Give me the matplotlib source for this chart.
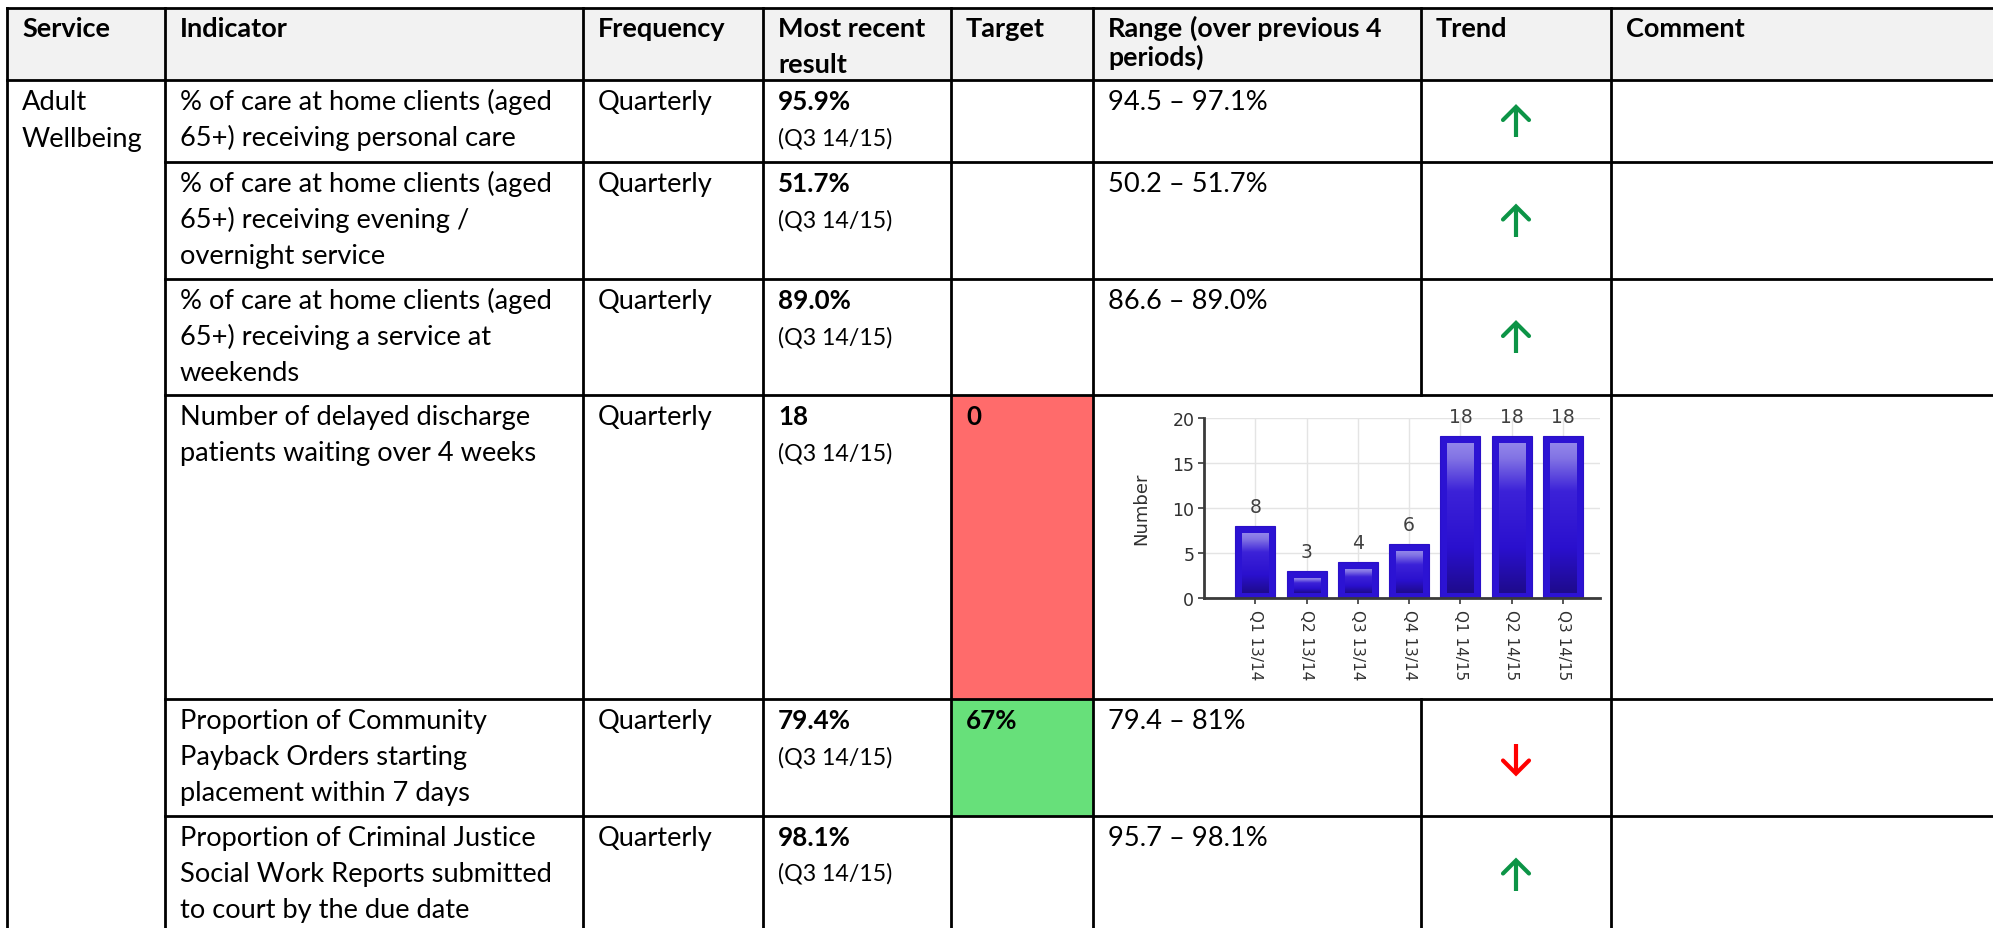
import matplotlib
matplotlib.use("Agg")
import matplotlib.pyplot as plt
import numpy as np
from matplotlib.patches import Rectangle
from matplotlib.colors import LinearSegmentedColormap

W, H = 1993, 929
DPI = 100

# ---------------- data ----------------
headers = ["Service", "Indicator", "Frequency", "Most recent\nresult", "Target", "Range", "Trend", "Comment"]
range_header_note = ["(over previous 4", "periods)"]
service = ["Adult", "Wellbeing"]
indicators = [
    "% of care at home clients (aged\n65+) receiving personal care",
    "% of care at home clients (aged\n65+) receiving evening /\novernight service",
    "% of care at home clients (aged\n65+) receiving a service at\nweekends",
    "Number of delayed discharge\npatients waiting over 4 weeks",
    "Proportion of Community\nPayback Orders starting\nplacement within 7 days",
    "Proportion of Criminal Justice\nSocial Work Reports submitted\nto court by the due date",
]
frequency = ["Quarterly"] * 6
results = ["95.9%", "51.7%", "89.0%", "18", "79.4%", "98.1%"]
result_period = ["(Q3 14/15)"] * 6
targets = ["", "", "", "0", "67%", ""]
target_met = [None, None, None, False, True, None]
ranges = ["94.5 \u2013 97.1%", "50.2 \u2013 51.7%", "86.6 \u2013 89.0%", "", "79.4 \u2013 81%", "95.7 \u2013 98.1%"]
trends = ["up", "up", "up", None, "down", "up"]
comments = [""] * 6

chart_periods = ["Q1 13/14", "Q2 13/14", "Q3 13/14", "Q4 13/14", "Q1 14/15", "Q2 14/15", "Q3 14/15"]
chart_values = [8, 3, 4, 6, 18, 18, 18]
chart_ylabel = "Number"
chart_yticks = [0, 5, 10, 15, 20]
chart_row = 3

# ---------------- layout (pixels) ----------------
col_x = [7, 165, 583, 763, 951, 1093, 1421, 1611]
row_y = [9, 81, 163, 280, 396, 700, 817, 934]
PAD = 15
BASE0 = 29
LINE = 36

FONT = "Lato"
LINE_W = 2.0

fig = plt.figure(figsize=(W / DPI, H / DPI), dpi=DPI)
ax = fig.add_axes([0, 0, 1, 1])
ax.set_xlim(0, W)
ax.set_ylim(H, 0)
ax.axis("off")

fig.canvas.draw()
R = fig.canvas.get_renderer()


def width_px(s, fs, weight="normal"):
    t = ax.text(0, 0, s, fontsize=fs, family=FONT, fontweight=weight)
    w = t.get_window_extent(R).width
    t.remove()
    return w


FS = 17 * 372 / width_px("% of care at home clients (aged", 17)
FSH = 17 * 147 / width_px("Most recent", 17, "bold")
FSB = 17 * 73 / width_px("95.9%", 17, "bold")
FSS = 15 * 115 / width_px("(Q3 14/15)", 15)
FSN = 15 * 192 / width_px("(over previous 4", 15, "bold")

# header background
ax.add_patch(Rectangle((col_x[0], row_y[0]), W - col_x[0], row_y[1] - row_y[0],
                       fc="#F2F2F2", ec="none", zorder=0))

# target fills
for i, met in enumerate(target_met):
    if met is None:
        continue
    ax.add_patch(Rectangle((col_x[4], row_y[i + 1]), col_x[5] - col_x[4], row_y[i + 2] - row_y[i + 1],
                           fc="#67E07A" if met else "#FF6B6B", ec="none", zorder=0))


def txt(x, y, s, fs, weight="normal", color="black"):
    return ax.text(x, y, s, fontsize=fs, family=FONT, fontweight=weight, color=color,
                   va="baseline", ha="left", zorder=5)


# header text
header_artists = {}
for c, h in enumerate(headers):
    for k, line in enumerate(h.split("\n")):
        header_artists[(c, k)] = txt(col_x[c] + PAD, row_y[0] + 28 + k * LINE, line, FSH, "bold")

# range header note, placed right after the bold "Range"
bb = header_artists[(5, 0)].get_window_extent(R)
x_note = bb.x1 + 0.25 * FSH * DPI / 72
txt(x_note, row_y[0] + 28, range_header_note[0], FSN, "bold")
txt(col_x[5] + PAD, row_y[0] + 28 + 29, range_header_note[1], FSN, "bold")

# service (merged cell)
for k, line in enumerate(service):
    txt(col_x[0] + PAD, row_y[1] + BASE0 + k * 37, line, FS)

# body rows
for i in range(6):
    top = row_y[i + 1]
    b0 = top + BASE0
    for k, line in enumerate(indicators[i].split("\n")):
        txt(col_x[1] + PAD, b0 + k * LINE, line, FS)
    txt(col_x[2] + PAD, b0, frequency[i], FS)
    txt(col_x[3] + PAD, b0, results[i], FSB, "bold")
    txt(col_x[3] + PAD, b0 + 35, result_period[i], FSS)
    if targets[i]:
        txt(col_x[4] + PAD, b0, targets[i], FSB, "bold")
    if ranges[i]:
        txt(col_x[5] + PAD, b0, ranges[i], FS)
    if comments[i]:
        txt(col_x[7] + PAD, b0, comments[i], FS)

    # trend arrows
    if trends[i] is not None:
        cx = (col_x[6] + col_x[7]) / 2
        cy = (row_y[i + 1] + row_y[i + 2]) / 2 + 1
        half = 15
        hw, hh = 13, 13
        if trends[i] == "up":
            col = "#0C9446"
            tip = cy - half
            ax.plot([cx, cx], [tip + 2, cy + half], color=col, lw=3.0, solid_capstyle="butt", zorder=6)
            ax.plot([cx - hw, cx, cx + hw], [tip + hh, tip, tip + hh], color=col, lw=3.0,
                    solid_capstyle="round", solid_joinstyle="miter", zorder=6)
        else:
            col = "#FF0000"
            tip = cy + half
            ax.plot([cx, cx], [cy - half, tip - 2], color=col, lw=3.0, solid_capstyle="butt", zorder=6)
            ax.plot([cx - hw, cx, cx + hw], [tip - hh, tip, tip - hh], color=col, lw=3.0,
                    solid_capstyle="round", solid_joinstyle="miter", zorder=6)


# grid lines of the table
def vline(x, y0, y1):
    ax.plot([x, x], [y0, y1], color="black", lw=LINE_W, solid_capstyle="projecting", zorder=4)


def hline(y, x0, x1):
    ax.plot([x0, x1], [y, y], color="black", lw=LINE_W, solid_capstyle="projecting", zorder=4)


for c, x in enumerate(col_x):
    if c == 6:
        vline(x, row_y[0], row_y[chart_row + 1])
        vline(x, row_y[chart_row + 2], H + 5)
    else:
        vline(x, row_y[0], H + 5)
hline(row_y[0], col_x[0], W + 5)
hline(row_y[1], col_x[0], W + 5)
for y in row_y[2:-1]:
    hline(y, col_x[1], W + 5)

# ---------------- embedded bar chart ----------------
px_left, px_right, px_bottom, px_top = 1204, 1600, 599, 419.3
ax2 = fig.add_axes([px_left / W, 1 - px_bottom / H, (px_right - px_left) / W, (px_bottom - px_top) / H])
ax2.set_facecolor("white")
xs = np.arange(len(chart_values))
BW = 0.78
ax2.bar(xs, chart_values, width=BW, color="#2C13D3", edgecolor="#2A10C8", lw=0.8, zorder=2)

cmap = LinearSegmentedColormap.from_list(
    "barshade",
    [(0.0, "#9286EA"), (0.10, "#8273E4"), (0.32, "#3C22D8"), (0.7, "#2A10CE"), (1.0, "#1E0B8C")])
grad = np.linspace(0, 1, 256).reshape(-1, 1)
unit_px_x = (px_right - px_left) / 7.72
unit_px_y = (px_bottom - px_top) / 20
inx = 7 / unit_px_x
int_ = 7 / unit_px_y
inb = 5 / unit_px_y
for x, v in zip(xs, chart_values):
    ax2.imshow(grad, extent=[x - BW / 2 + inx, x + BW / 2 - inx, inb, v - int_],
               aspect="auto", cmap=cmap, origin="upper", interpolation="bilinear", zorder=3)
    ax2.annotate(str(v), xy=(x, v), xytext=(0, 10), textcoords="offset points",
                 ha="center", va="baseline", fontsize=13.5, color="#404040",
                 family="DejaVu Sans", annotation_clip=False)

ax2.set_xlim(-1, 6.72)
ax2.set_ylim(0, 20)
ax2.set_yticks(chart_yticks)
ax2.set_xticks(xs)
ax2.set_xticklabels(chart_periods, rotation=-90, fontsize=11, color="#303030", family="DejaVu Sans")
ax2.tick_params(axis="y", labelsize=12.5, labelcolor="#303030", length=4, width=1.2, color="#3A3A3A", pad=3)
ax2.tick_params(axis="x", length=4, width=1.2, color="#3A3A3A", pad=4)
for lab in ax2.get_yticklabels():
    lab.set_family("DejaVu Sans")
ax2.set_axisbelow(True)
ax2.grid(True, color="#E4E4E4", lw=1.0)
for s in ["top", "right"]:
    ax2.spines[s].set_visible(False)
for s in ["left", "bottom"]:
    ax2.spines[s].set_color("#3A3A3A")
    ax2.spines[s].set_linewidth(2.0)
ax2.set_ylabel(chart_ylabel, fontsize=13, color="#303030", family="DejaVu Sans")
ax2.yaxis.set_label_coords((1150 - px_left) / (px_right - px_left), 0.5)

fig.savefig("out.png", dpi=DPI)
